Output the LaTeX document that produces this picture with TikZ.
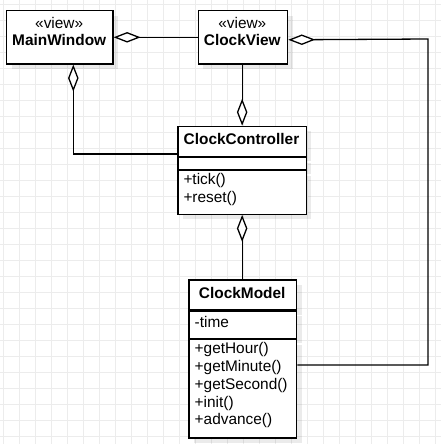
\documentclass[tikz,border=0pt]{standalone}
\usepackage{fontspec}
\setmainfont{Liberation Sans}
\usetikzlibrary{arrows.meta,shadows}
\definecolor{gridc}{RGB}{236,236,236}
\begin{document}
\begin{tikzpicture}[x=1pt,y=-1pt,
  box/.style={draw=black, line width=1.3pt, fill=white, inner sep=0pt, anchor=north west,
    drop shadow={shadow xshift=5pt, shadow yshift=-5pt, fill=black, opacity=0.08}},
  txt/.style={inner sep=0pt, font=\fontsize{15.4}{17.8}\selectfont},
  txtb/.style={inner sep=0pt, font=\fontsize{15.4}{17.8}\selectfont\bfseries},
  agg/.style={line width=1.3pt, arrows={Diamond[fill=white,length=27pt,width=10.5pt]-}},
  gridline/.style={draw=gridc, line width=1pt}]
\useasboundingbox (0,0) rectangle (441,444);
\fill[white] (0,0) rectangle (441,444);
\foreach \i in {0,...,27} {
  \draw[gridline] (3.5+16*\i,0) -- (3.5+16*\i,444);
  \draw[gridline] (0,4.5+16*\i) -- (441,4.5+16*\i);
}
% MainWindow
\node[box, minimum width=106.3, minimum height=53.3] (mw) at (6,10) {};
\node[txt, anchor=base] (mw1) at (59.2,28.8) {«view»};
\node[txtb, anchor=base] (mw2) at (59.2,45.7) {MainWindow};
% ClockView
\node[box, minimum width=89.3, minimum height=53.3] (cv) at (197.7,10) {};
\node[txt, anchor=base] (cv1) at (242.3,28.8) {«view»};
\node[txtb, anchor=base] (cv2) at (242.3,45.7) {ClockView};
% ClockController
\node[box, minimum width=128.4, minimum height=30] (cc) at (177.3,125.7) {};
\node[box, minimum width=128.4, minimum height=11.6] (cca) at (cc.south west) {};
\node[box, minimum width=128.4, minimum height=43.7] (ccm) at (cca.south west) {};
\node[txtb, anchor=base] (cct) at (241.5,144.4) {ClockController};
\node[txt, anchor=base west] (ccm1) at (183.3,184.5) {+tick()};
\node[txt, anchor=base west] (ccm2) at (183.3,202.2) {+reset()};
% ClockModel
\node[box, minimum width=107.7, minimum height=29.7] (cm) at (188.3,279.3) {};
\node[box, minimum width=107.7, minimum height=27.3] (cma) at (cm.south west) {};
\node[box, minimum width=107.7, minimum height=98.4] (cmm) at (cma.south west) {};
\node[txtb, anchor=base] (cmt) at (242.2,298.3) {ClockModel};
\node[txt, anchor=base west] (cma1) at (194.5,327) {-time};
\node[txt, anchor=base west] (cmm1) at (194.5,353.6) {+getHour()};
\node[txt, anchor=base west] (cmm2) at (194.5,371.4) {+getMinute()};
\node[txt, anchor=base west] (cmm3) at (194.5,389.2) {+getSecond()};
\node[txt, anchor=base west] (cmm4) at (194.5,407) {+init()};
\node[txt, anchor=base west] (cmm5) at (194.5,424.8) {+advance()};
% connectors
\coordinate (k1) at (428,39);
\coordinate (k2) at (428,365);
\coordinate (k3) at (73.3,154);
\draw[agg] (mw.east) -- (cv.west);
\draw[agg] ([yshift=-2.5pt]cv.east) -- (k1) -- (k2) -- (k2 -| cmm.east);
\draw[agg] (cc.north) -- (cc.north |- cv.south);
\draw[agg] (k3 |- mw.south) -- (k3) -- (k3 -| cc.west);
\draw[agg] (ccm.south) -- (ccm.south |- cm.north);
\end{tikzpicture}
\end{document}
